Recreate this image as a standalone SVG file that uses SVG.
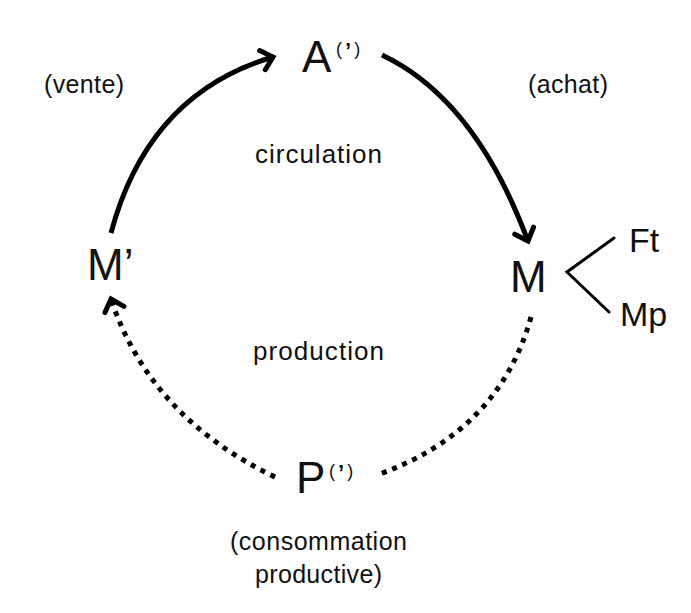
<svg xmlns="http://www.w3.org/2000/svg" width="691" height="613" viewBox="0 0 691 613">
  <defs>
    <pattern id="grid" width="4" height="4" patternUnits="userSpaceOnUse">
      <rect x="1" y="1" width="1" height="1" fill="#ececec"/>
    </pattern>
    <marker id="chev" markerUnits="userSpaceOnUse" viewBox="-16 -14 20 28" markerWidth="20" markerHeight="28" refX="0" refY="0" orient="auto" overflow="visible">
      <path d="M-11,-10 L0,0 L-11,10" fill="none" stroke="#000" stroke-width="5" stroke-linecap="round" stroke-linejoin="miter"/>
    </marker>
  </defs>
  <style>
    text { font-family: "Liberation Sans", Arial, sans-serif; fill: #111; }
    .big { font-size: 44px; }
    .sup { font-size: 18px; letter-spacing: 3px; }
    .ap { font-weight: bold; font-size: 22px; }
    .lbl { font-size: 25px; }
    .mid { font-size: 26px; }
    .side { font-size: 34px; }
    .solid { fill: none; stroke: #000; stroke-width: 5; stroke-linecap: butt; }
    .dotted { fill: none; stroke: #000; stroke-width: 5; stroke-dasharray: 5 6; }
    .branch { fill: none; stroke: #000; stroke-width: 3; stroke-linecap: round; }
  </style>
  <rect width="691" height="613" fill="#fff"/>
  <rect width="691" height="613" fill="url(#grid)"/>

  <g id="connectors">
    <path class="solid" d="M111,233 Q148,94 273,57" marker-end="url(#chev)"/>
    <path class="solid" d="M382,55 Q475,99 528,241" marker-end="url(#chev)"/>
    <path class="dotted" d="M531,317 Q499,432 377,475"/>
    <path class="dotted" d="M275,477 Q150,417 111,299" marker-end="url(#chev)"/>
    <path class="branch" d="M614,238 L567,272 L609,312"/>
  </g>

  <g id="node-A">
    <text class="big" x="302" y="72">A</text>
    <text class="sup" x="336" y="55">(<tspan class="ap" dy="3">’</tspan><tspan dy="-3">)</tspan></text>
  </g>
  <g id="node-M">
    <text class="big" x="510" y="292">M</text>
  </g>
  <g id="node-Ft">
    <text class="side" x="629" y="252">Ft</text>
  </g>
  <g id="node-Mp">
    <text class="side" x="620" y="326">Mp</text>
  </g>
  <g id="node-P">
    <text class="big" x="296" y="493">P</text>
    <text class="sup" x="329" y="477">(<tspan class="ap" dy="3">’</tspan><tspan dy="-3">)</tspan></text>
  </g>
  <g id="node-Mprime">
    <text class="big" x="87" y="280">M’</text>
  </g>
  <g id="labels">
    <text class="lbl" x="44" y="93" textLength="80" lengthAdjust="spacing">(vente)</text>
    <text class="lbl" x="528" y="93" textLength="80" lengthAdjust="spacing">(achat)</text>
    <text class="mid" x="255" y="163" textLength="127" lengthAdjust="spacing">circulation</text>
    <text class="mid" x="253" y="360" textLength="131" lengthAdjust="spacing">production</text>
    <text class="lbl" x="230" y="550" textLength="177" lengthAdjust="spacing">(consommation</text>
    <text class="lbl" x="255" y="583" textLength="127" lengthAdjust="spacing">productive)</text>
  </g>
</svg>
